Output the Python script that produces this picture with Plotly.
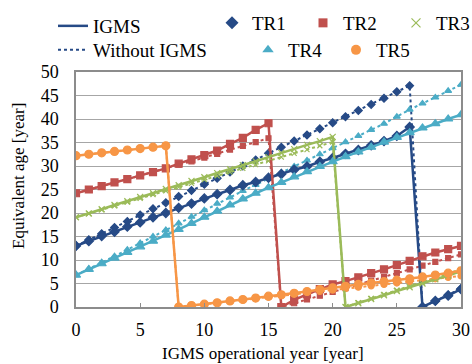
import plotly.graph_objects as go

years = list(range(31))

tr1_igms = [13.0, 14.0, 15.1, 16.0, 17.1, 18.0, 19.1, 20.0, 21.1, 22.0, 23.1, 24.0, 24.9, 25.9, 26.6, 27.5,
            28.3, 29.2, 29.9, 30.9, 31.7, 32.6, 33.4, 34.4, 35.3, 36.4, 38.3, 0.0, 1.3, 2.4, 3.8]
tr1_without = [13.0, 14.3, 15.6, 16.9, 18.2, 19.6, 20.9, 22.2, 23.5, 24.8, 26.1, 27.4, 28.7, 30.0, 31.3, 32.7,
               34.0, 35.3, 36.6, 37.9, 39.2, 40.5, 41.8, 43.1, 44.4, 45.8, 47.1, 0.0, 1.3, 2.6, 3.9]
tr2_igms = [24.2, 25.0, 25.7, 26.5, 27.2, 28.0, 28.7, 29.5, 30.5, 31.4, 32.3, 33.3, 34.7, 36.0, 37.7, 39.1,
            0.0, 1.5, 2.7, 3.8, 4.8, 5.5, 6.3, 7.2, 8.0, 8.9, 9.8, 10.8, 11.6, 12.3, 13.0]
tr2_without = [24.2, 25.0, 25.7, 26.5, 27.2, 28.0, 28.7, 29.5, 30.3, 31.0, 31.8, 32.6, 33.5, 34.3, 35.1, 35.9,
               0.0, 0.8, 1.6, 2.4, 3.2, 4.0, 4.8, 5.6, 6.4, 7.2, 8.0, 8.8, 9.6, 10.4, 11.2]
tr3_igms = [19.1, 19.9, 20.8, 21.7, 22.5, 23.4, 24.2, 25.1, 25.9, 26.8, 27.6, 28.5, 29.3, 30.2, 31.0, 31.9,
            32.8, 33.6, 34.5, 35.3, 36.2, 0.0, 0.8, 1.7, 2.5, 3.4, 4.2, 5.0, 5.9, 6.7, 7.6]
tr3_without = [19.1, 19.9, 20.7, 21.5, 22.3, 23.1, 23.9, 24.7, 25.5, 26.3, 27.1, 27.9, 28.7, 29.5, 30.3, 31.1,
               31.9, 32.7, 33.5, 34.3, 35.1, 0.0, 0.9, 1.8, 2.7, 3.6, 4.5, 5.3, 6.2, 7.1, 8.0]
tr4_igms = [6.8, 8.0, 9.2, 10.4, 11.6, 12.8, 14.0, 15.3, 16.5, 17.8, 19.1, 20.4, 21.7, 23.0, 24.2, 25.4,
            26.5, 27.7, 28.8, 29.9, 30.9, 32.0, 33.0, 34.0, 35.1, 36.1, 37.1, 38.1, 39.0, 40.0, 40.9]
tr4_without = [6.8, 8.1, 9.5, 10.8, 12.2, 13.6, 15.0, 16.4, 17.8, 19.2, 20.6, 22.0, 23.3, 24.7, 26.0, 27.3,
               28.6, 29.9, 31.2, 32.5, 33.8, 35.1, 36.4, 37.7, 39.0, 40.5, 42.0, 43.3, 44.6, 46.0, 47.3]
tr5_igms = [32.2, 32.5, 32.8, 33.1, 33.4, 33.7, 34.0, 34.3, 0.0, 0.3, 0.6, 0.9, 1.3, 1.6, 1.9, 2.3,
            2.6, 2.9, 3.3, 3.7, 4.1, 4.4, 4.8, 5.1, 5.4, 5.7, 6.0, 6.4, 6.8, 7.2, 7.7]
tr5_without = [32.2, 32.5, 32.8, 33.1, 33.4, 33.7, 34.0, 34.3, 0.0, 0.3, 0.6, 0.9, 1.2, 1.5, 1.8, 2.1,
               2.4, 2.7, 3.0, 3.3, 3.6, 3.9, 4.2, 4.5, 4.8, 5.1, 5.4, 5.7, 6.0, 6.3, 6.6]

series_names = ["TR1", "TR2", "TR3", "TR4", "TR5"]
igms_values = [tr1_igms, tr2_igms, tr3_igms, tr4_igms, tr5_igms]
without_values = [tr1_without, tr2_without, tr3_without, tr4_without, tr5_without]
colors = ["#264A86", "#C0504D", "#9BBB59", "#4BACC6", "#F79646"]
symbols = ["diamond", "square", "x-thin", "triangle-up", "circle"]
msize_solid = [7, 7, 6, 8, 8]
msize_dot = [6, 5, 5, 6, 6]

FONT = "Liberation Serif, Times New Roman, serif"
fig = go.Figure()

# Without IGMS (dotted)
for name, vals, c, s, ms in zip(series_names, without_values, colors, symbols, msize_dot):
    fig.add_trace(go.Scatter(
        x=years, y=vals, mode="lines+markers", showlegend=False,
        line=dict(color=c, width=2, dash="dot"),
        marker=dict(symbol=s, size=ms, color=c, line=dict(color=c, width=1.2)),
        name=name + " without IGMS"))

# IGMS (solid)
for name, vals, c, s, ms in zip(series_names, igms_values, colors, symbols, msize_solid):
    fig.add_trace(go.Scatter(
        x=years, y=vals, mode="lines+markers", showlegend=False,
        line=dict(color=c, width=2.5),
        marker=dict(symbol=s, size=ms, color=c, line=dict(color=c, width=1.2)),
        name=name + " IGMS"))

# legend entries
def px_x(px):
    return (px - 76) / 385.0

def px_y(py):
    return 1 + (72 - py) / 235.0

legend_specs = [
    ("legend", "IGMS", dict(mode="lines", line=dict(color=colors[0], width=2.5)), 53, 26),
    ("legend2", "Without IGMS", dict(mode="lines", line=dict(color=colors[0], width=2, dash="dot")), 53, 50),
    ("legend3", "TR1", dict(mode="markers", marker=dict(symbol=symbols[0], size=10, color=colors[0])), 212, 23),
    ("legend4", "TR2", dict(mode="markers", marker=dict(symbol=symbols[1], size=9, color=colors[1])), 303, 23),
    ("legend5", "TR3", dict(mode="markers", marker=dict(symbol=symbols[2], size=9, color=colors[2],
                                                         line=dict(color=colors[2], width=1.2))), 396, 23),
    ("legend6", "TR4", dict(mode="markers", marker=dict(symbol=symbols[3], size=10, color=colors[3])), 248, 50),
    ("legend7", "TR5", dict(mode="markers", marker=dict(symbol=symbols[4], size=10, color=colors[4])), 336, 50),
]

layout_legends = {}
for key, label, style, lx, ly in legend_specs:
    fig.add_trace(go.Scatter(x=[None], y=[None], name=label, legend=key, showlegend=True, **style))
    layout_legends[key] = dict(
        x=px_x(lx), y=px_y(ly), xanchor="left", yanchor="middle",
        bgcolor="rgba(0,0,0,0)", borderwidth=0,
        font=dict(family=FONT, size=19, color="#000000"))

fig.update_layout(
    width=472, height=364,
    margin=dict(l=76, r=11, t=72, b=57, autoexpand=False),
    paper_bgcolor="white", plot_bgcolor="white",
    font=dict(family=FONT, size=18, color="#000000"),
    xaxis=dict(range=[0, 30], tickvals=[0, 5, 10, 15, 20, 25, 30], showgrid=False, zeroline=False,
               showline=True, linecolor="#8C8C8C", linewidth=1.5, mirror=True,
               ticks="inside", ticklen=4, tickcolor="#8C8C8C", tickwidth=1,
               ticklabelstandoff=6, tickfont=dict(family=FONT, size=18, color="#000000")),
    yaxis=dict(range=[0, 50], tickvals=[0, 5, 10, 15, 20, 25, 30, 35, 40, 45, 50],
               showgrid=True, gridcolor="#A6A6A6", gridwidth=1, zeroline=False,
               showline=True, linecolor="#8C8C8C", linewidth=1.5, mirror=True,
               ticks="", ticklabelstandoff=12, tickfont=dict(family=FONT, size=18, color="#000000")),
    annotations=[
        dict(text="Equivalent age [year]", xref="paper", yref="paper", x=px_x(18), y=1 - (176 - 72) / 235.0,
             textangle=-90, showarrow=False, xanchor="center", yanchor="middle",
             font=dict(family=FONT, size=17, color="#000000")),
        dict(text="IGMS operational year [year]", xref="paper", yref="paper", x=px_x(263), y=-(353 - 307) / 235.0,
             showarrow=False, xanchor="center", yanchor="middle",
             font=dict(family=FONT, size=17, color="#000000")),
    ],
    **layout_legends,
)

fig.write_html("out.html", config={"displayModeBar": False},
               post_script="document.body.style.margin='0px';")
